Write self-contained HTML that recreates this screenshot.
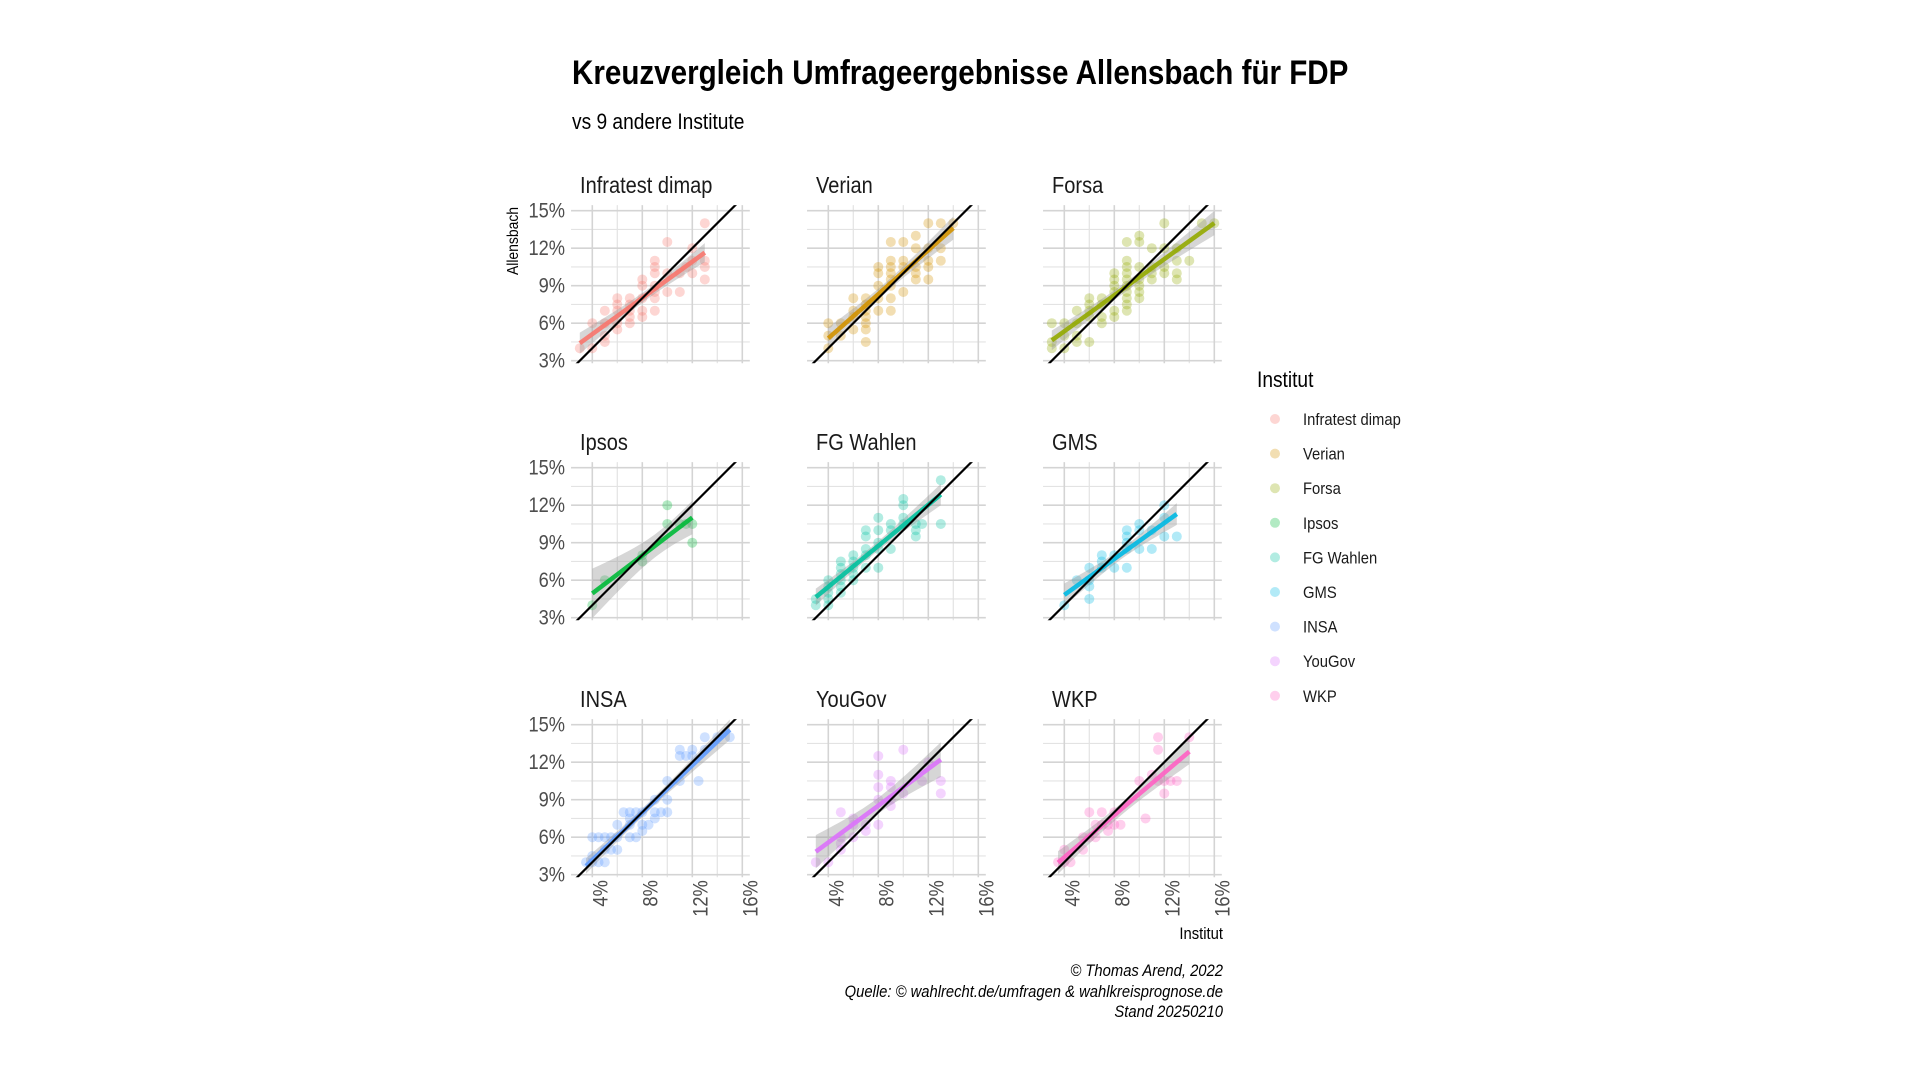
<!DOCTYPE html>
<html><head><meta charset="utf-8">
<style>
html,body{margin:0;padding:0;background:#fff;}
svg{display:block;font-family:"Liberation Sans Narrow","Liberation Sans",sans-serif;}
</style></head>
<body>
<svg id="chart" width="1920" height="1080" viewBox="0 0 1920 1080" xmlns="http://www.w3.org/2000/svg">
<rect width="1920" height="1080" fill="#fff"/>
<text class="cond" x="572" y="84" font-size="34" font-weight="bold" fill="#000">Kreuzvergleich Umfrageergebnisse Allensbach für FDP</text>
<text class="cond" x="572" y="129" font-size="22" fill="#000">vs 9 andere Institute</text>
<text class="cond" transform="translate(518,241) rotate(-90)" text-anchor="middle" font-size="16" fill="#000">Allensbach</text>
<text class="cond" x="1223" y="939" text-anchor="end" font-size="17" fill="#000">Institut</text>
<g font-size="17" font-style="italic" fill="#000" text-anchor="end">
<text class="cond" x="1223" y="976">© Thomas Arend, 2022</text>
<text class="cond" x="1223" y="997">Quelle: © wahlrecht.de/umfragen &amp; wahlkreisprognose.de</text>
<text class="cond" x="1223" y="1017">Stand 20250210</text>
</g>
<g id="panels"></g>
<g id="legend">
<text class="cond" x="1257" y="387" font-size="22" fill="#000">Institut</text>
</g>
</svg>
<script>
const institutes = ["Infratest dimap","Verian","Forsa","Ipsos","FG Wahlen","GMS","INSA","YouGov","WKP"];
const colors = ["#F8766D","#D39200","#93AA00","#00BA38","#00C19F","#00B9E3","#619CFF","#DB72FB","#FF61C3"];
const xTicks = [4,8,12,16];
const xTickLabels = ["4%","8%","12%","16%"];
const yTicks = [3,6,9,12,15];
const yTickLabels = ["3%","6%","9%","12%","15%"];
// [institut value, Allensbach value] pairs in %
const dataInfratest = [[3,4],[4,4],[4,6],[5,7],[5,6],[5,5],[5,4.5],[6,8],[6,7.5],[6,7],[6,6],[6,5.5],[7,8],[7,7.5],[7,7],[7,6.5],[7,6],[8,9.5],[8,9],[8,8],[8,7],[8,6.5],[9,11],[9,10.5],[9,10],[9,9],[9,8.5],[9,8],[9,7],[10,12.5],[10,10],[10,8.5],[11,10],[11,8.5],[11.5,10.5],[12,12],[12,11],[12,10],[13,14],[13,11],[13,10.5],[13,9.5]];
const dataVerian = [[4,4],[4,5],[4,6],[5,6],[5,5],[6,8],[6,7],[6,6.5],[6,5.5],[7,8],[7,7.5],[7,7],[7,6.5],[7,6],[7,5.5],[7,4.5],[8,10.5],[8,10],[8,9],[8,8],[8,7],[9,12.5],[9,11],[9,10.5],[9,10],[9,9.5],[9,9],[9,8],[9,7],[10,12.5],[10,11],[10,10.5],[10,8.5],[11,13],[11,12],[11,10.5],[11,10],[11,9.5],[12,14],[12,12],[12,11],[12,10.5],[12,9.5],[13,14],[13,12],[13,11],[14,14]];
const dataForsa = [[3,6],[3,4.5],[3,4],[4,6],[4,4],[4,5],[5,7],[5,6],[5,5],[5,4.5],[6,8],[6,7.5],[6,7],[6,6.5],[6,4.5],[7,8],[7,7.5],[7,6.5],[7,6],[8,10],[8,9.5],[8,9],[8,8.5],[8,7],[8,6.5],[9,11],[9,10.5],[9,10],[9,9.5],[9,9],[9,8.5],[9,8],[9,7.5],[9,7],[9,12.5],[10,13],[10,12.5],[10,10.5],[10,9.5],[10,9],[10,8.5],[10,8],[11,12],[11,10.5],[11,10],[11,9.5],[12,14],[12,12],[12,10.5],[12,10],[13,12],[13,11],[13,10],[13,9.5],[14,11],[15,14],[16,14]];
const dataIpsos = [[4,4],[5,6],[8,8],[8,7.5],[10,12],[10,10.5],[11,10.5],[11.5,10.5],[12,10.5],[12,9]];
const dataFG = [[3,4],[3,4.5],[4,4],[4,4.5],[4,5],[4,5.5],[4,6],[5,5],[5,5.5],[5,6],[5,6.5],[5,7],[5,7.5],[6,6.5],[6,7],[6,7.5],[6,8],[6,6],[7,7],[7,8],[7,8.5],[7,9.5],[7,10],[8,7],[8,9],[8,8.5],[8,10],[8,11],[9,8.5],[9,10],[9,10.5],[10,12.5],[10,12],[10,11],[10,10.5],[11,10.5],[11,10],[11,9.5],[11.5,10.5],[13,14],[13,10.5]];
const dataGMS = [[4,4],[5,6],[6,7],[6,6],[6,5.5],[6,4.5],[7,8],[7,7.5],[7,7],[8,8],[8,7],[9,10],[9,9.5],[9,9],[9,8.5],[9,7],[10,10.5],[10,10],[10,8.5],[11,8.5],[11,10],[12,12],[12,11],[12,9.5],[13,9.5]];
const dataINSA = [[3.5,4],[4,4],[4,4.5],[4.5,4],[5,4],[4,6],[4.5,6],[5,6],[5,5],[5.5,5],[6,5],[5.5,6],[6,6],[6,7],[6.5,8],[7,8],[7,7.5],[7,7],[7,6],[7.5,6],[7.5,8],[8,8],[8,7],[8,6.5],[8.5,7],[9,8],[9,7.5],[9.5,8],[10,8],[9,9],[10,9],[10,10.5],[11,10.5],[12.5,10.5],[11,13],[11,12.5],[11.5,12.5],[12,13],[12,12.5],[13,13],[13,14],[14,14],[15,14]];
const dataYouGov = [[3,4],[4,4],[5,8],[5,6],[5,5.5],[5,5],[6,7.5],[6,7],[6,6],[7,7],[7,6.5],[8,12.5],[8,11],[8,10],[8,9],[8,7],[9,10.5],[9,10],[9,9],[9,8.5],[10,13],[10,9.5],[11.5,10.5],[12,12],[13,10.5],[13,9.5]];
const dataWKP = [[3.5,4],[4,5],[4,4],[4.5,4],[5.5,6],[5.5,5],[6,6],[6,8],[6.5,6],[6.5,7],[7,8],[7,7],[7.5,6.5],[7.5,7],[8,8],[8,7],[8.5,7],[10,10.5],[10.5,7.5],[11,11],[11.5,14],[11.5,13],[11.5,10.5],[12,10.5],[12,9.5],[12.5,10.5],[13,10.5],[14,14]];
const allData = [dataInfratest,dataVerian,dataForsa,dataIpsos,dataFG,dataGMS,dataINSA,dataYouGov,dataWKP];

const NS = "http://www.w3.org/2000/svg";
function mk(tag, attrs, parent){const e=document.createElementNS(NS,tag);for(const k in attrs)e.setAttribute(k,attrs[k]);parent.appendChild(e);return e;}
const XMIN=2.3, XMAX=16.6, YMIN=2.8, YMAX=15.45;
const PX=12.5, PY=12.5;
function xScale(c){const x4=592.3+c*236;return v=>x4+(v-4)*PX;}
function yScale(r){const y15=210.7+r*257;return v=>y15+(15-v)*PY;}
const panelsG=document.getElementById('panels');

allData.forEach((data,i)=>{
  const c=i%3, r=Math.floor(i/3);
  const X=xScale(c), Y=yScale(r);
  const g=mk('g',{},panelsG);
  
  
  const L=X(XMIN),R=X(XMAX),T=Y(YMAX),B=Y(YMIN);
  const clipId='clip'+i;
  const cp=mk('clipPath',{id:clipId},g);
  mk('rect',{x:L,y:T,width:R-L,height:B-T},cp);
  for(let v=6;v<=14;v+=4){mk('line',{x1:X(v),x2:X(v),y1:T,y2:B,stroke:'#e3e3e3','stroke-width':1.2},g);}
  for(let v=4.5;v<=13.5;v+=3){mk('line',{x1:L,x2:R,y1:Y(v),y2:Y(v),stroke:'#e3e3e3','stroke-width':1.2},g);}
  xTicks.forEach(v=>{const gl=mk('line',{x1:X(v),x2:X(v),y1:T,y2:B,stroke:'#d4d4d4','stroke-width':1.6},g);});
  yTicks.forEach(v=>{const gl=mk('line',{x1:L,x2:R,y1:Y(v),y2:Y(v),stroke:'#d4d4d4','stroke-width':1.6},g);});
  const ft=mk('text',{x:L+9,y:T-12,'font-size':23,fill:'#1a1a1a','class':'cond'},g);
  ft.textContent=institutes[i];
  
  
  if(c===0){
    yTicks.forEach((v,k)=>{const t=mk('text',{x:L-6,y:Y(v)+7,'text-anchor':'end','font-size':21,fill:'#4d4d4d','class':'cond'},g);t.textContent=yTickLabels[k];
      });
  }
  if(r===2){
    xTicks.forEach((v,k)=>{const t=mk('text',{transform:`translate(${X(v)+15},${B+3}) rotate(-90)`,'text-anchor':'end','font-size':21,fill:'#4d4d4d','class':'cond'},g);t.textContent=xTickLabels[k];
      });
  }
  const cg=mk('g',{'clip-path':`url(#${clipId})`},g);
  data.forEach(d=>{const p=mk('circle',{cx:X(d[0]),cy:Y(d[1]),r:5,fill:colors[i],'fill-opacity':0.3},cg);
    });
  const n=data.length;const mx=data.reduce((s,d)=>s+d[0],0)/n;const my=data.reduce((s,d)=>s+d[1],0)/n;
  let sxx=0,sxy=0;data.forEach(d=>{sxx+=(d[0]-mx)**2;sxy+=(d[0]-mx)*(d[1]-my);});
  const b=sxy/sxx,a=my-b*mx;let sse=0;data.forEach(d=>{sse+=(d[1]-a-b*d[0])**2;});
  const s=Math.sqrt(sse/Math.max(1,n-2));const tq=n<15?2.3:2.02;
  const xs=data.map(d=>d[0]);const x0=Math.min(...xs),x1=Math.max(...xs);
  let up=[],lo=[];for(let k=0;k<=40;k++){const x=x0+(x1-x0)*k/40;const yh=a+b*x;const se=s*Math.sqrt(1/n+(x-mx)**2/sxx);
    up.push(X(x)+','+Y(yh+tq*se));lo.unshift(X(x)+','+Y(yh-tq*se));}
  const band=mk('polygon',{points:up.concat(lo).join(' '),fill:'#999','fill-opacity':0.4},cg);
  
  const rl=mk('line',{x1:X(x0),y1:Y(a+b*x0),x2:X(x1),y2:Y(a+b*x1),stroke:colors[i],'stroke-width':4.5,'stroke-opacity':0.9},cg);
  
  const dg=mk('line',{x1:X(0),y1:Y(0),x2:X(20),y2:Y(20),stroke:'#000','stroke-width':2.2},cg);
  
});
const lg=document.getElementById('legend');
institutes.forEach((name,i)=>{
  const y=419+i*34.6;
  const dot=mk('circle',{cx:1275,cy:y,r:5,fill:colors[i],'fill-opacity':0.3},lg);
  
  const t=mk('text',{x:1303,y:y+6,'font-size':17,fill:'#1a1a1a','class':'cond'},lg);t.textContent=name;
  
});
// condense text (narrow font look)
document.querySelectorAll('text.cond').forEach(t=>{
  const w=t.getComputedTextLength();
  if(w>0){t.setAttribute('textLength',(w*0.87).toFixed(1));t.setAttribute('lengthAdjust','spacingAndGlyphs');}
});
</script>
</body></html>
